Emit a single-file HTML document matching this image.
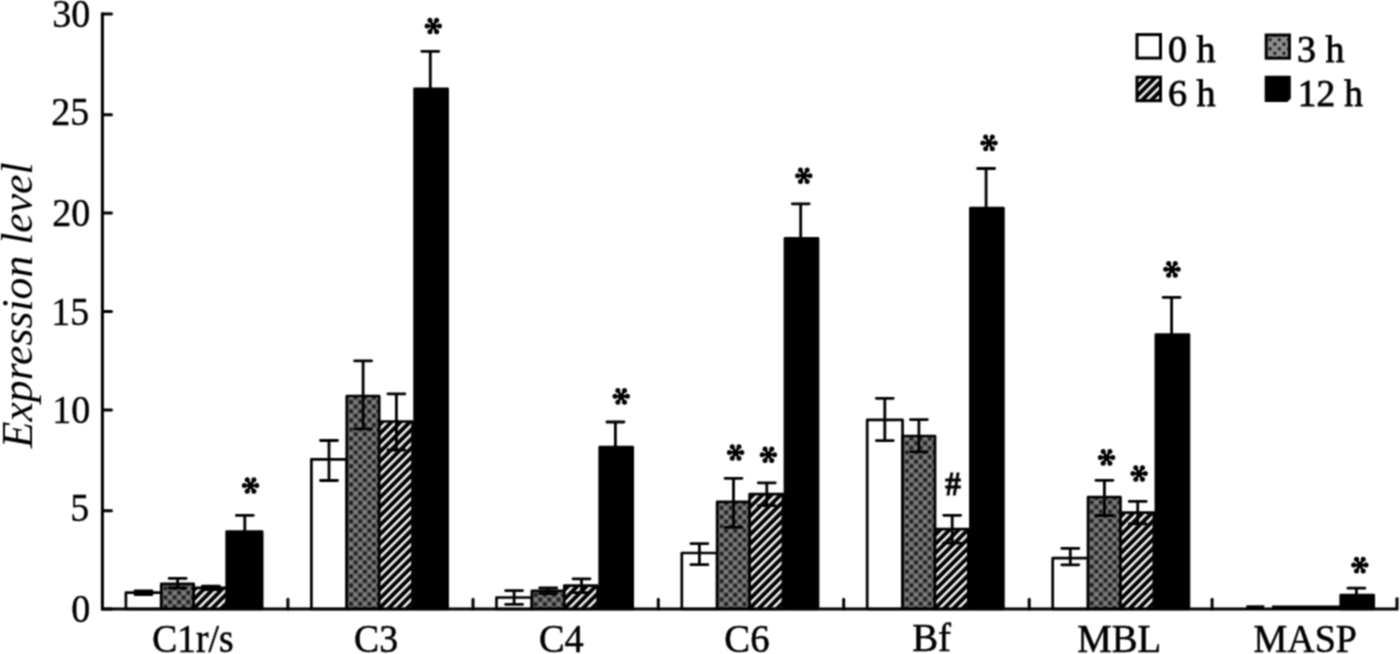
<!DOCTYPE html><html><head><meta charset="utf-8"><title>Expression level chart</title><style>html,body{margin:0;padding:0;background:#fff;width:1400px;height:654px;overflow:hidden}svg{display:block}text{font-family:"Liberation Serif",serif}.t{stroke:#000;stroke-width:0.55px}.ty{stroke:#000;stroke-width:0.4px}.tl{stroke:#000;stroke-width:0.8px}</style></head><body>
<svg width="1400" height="654" viewBox="0 0 1400 654">
<defs>
<pattern id="d0" patternUnits="userSpaceOnUse" width="9.17" height="9.17" x="0.34" y="1.38"><rect width="9.17" height="9.17" fill="#646464"/>
<circle cx="0" cy="0" r="2.0" fill="#1e1e1e"/>
<circle cx="9.17" cy="0" r="2.0" fill="#1e1e1e"/>
<circle cx="0" cy="9.17" r="2.0" fill="#1e1e1e"/>
<circle cx="9.17" cy="9.17" r="2.0" fill="#1e1e1e"/>
<circle cx="4.585" cy="4.585" r="2.0" fill="#1e1e1e"/>
<circle cx="4.585" cy="0" r="1.7" fill="#858585"/>
<circle cx="0" cy="4.585" r="1.7" fill="#858585"/>
<circle cx="9.17" cy="4.585" r="1.7" fill="#858585"/>
<circle cx="4.585" cy="9.17" r="1.7" fill="#858585"/>
</pattern>
<pattern id="h0" patternUnits="userSpaceOnUse" width="6.484" height="20" patternTransform="rotate(45)" x="5.125"><rect width="6.484" height="20" fill="#000"/><rect x="0" width="2.45" height="20" fill="#fff"/></pattern>
<pattern id="d1" patternUnits="userSpaceOnUse" width="9.17" height="9.17" x="2.59" y="7.75"><rect width="9.17" height="9.17" fill="#646464"/>
<circle cx="0" cy="0" r="2.0" fill="#1e1e1e"/>
<circle cx="9.17" cy="0" r="2.0" fill="#1e1e1e"/>
<circle cx="0" cy="9.17" r="2.0" fill="#1e1e1e"/>
<circle cx="9.17" cy="9.17" r="2.0" fill="#1e1e1e"/>
<circle cx="4.585" cy="4.585" r="2.0" fill="#1e1e1e"/>
<circle cx="4.585" cy="0" r="1.7" fill="#858585"/>
<circle cx="0" cy="4.585" r="1.7" fill="#858585"/>
<circle cx="9.17" cy="4.585" r="1.7" fill="#858585"/>
<circle cx="4.585" cy="9.17" r="1.7" fill="#858585"/>
</pattern>
<pattern id="h1" patternUnits="userSpaceOnUse" width="6.484" height="20" patternTransform="rotate(45)" x="0.126"><rect width="6.484" height="20" fill="#000"/><rect x="0" width="2.45" height="20" fill="#fff"/></pattern>
<pattern id="d2" patternUnits="userSpaceOnUse" width="9.17" height="9.17" x="3.84" y="8.15"><rect width="9.17" height="9.17" fill="#646464"/>
<circle cx="0" cy="0" r="2.0" fill="#1e1e1e"/>
<circle cx="9.17" cy="0" r="2.0" fill="#1e1e1e"/>
<circle cx="0" cy="9.17" r="2.0" fill="#1e1e1e"/>
<circle cx="9.17" cy="9.17" r="2.0" fill="#1e1e1e"/>
<circle cx="4.585" cy="4.585" r="2.0" fill="#1e1e1e"/>
<circle cx="4.585" cy="0" r="1.7" fill="#858585"/>
<circle cx="0" cy="4.585" r="1.7" fill="#858585"/>
<circle cx="9.17" cy="4.585" r="1.7" fill="#858585"/>
<circle cx="4.585" cy="9.17" r="1.7" fill="#858585"/>
</pattern>
<pattern id="h2" patternUnits="userSpaceOnUse" width="6.484" height="20" patternTransform="rotate(45)" x="1.328"><rect width="6.484" height="20" fill="#000"/><rect x="0" width="2.45" height="20" fill="#fff"/></pattern>
<pattern id="d3" patternUnits="userSpaceOnUse" width="9.17" height="9.17" x="6.24" y="3.48"><rect width="9.17" height="9.17" fill="#646464"/>
<circle cx="0" cy="0" r="2.0" fill="#1e1e1e"/>
<circle cx="9.17" cy="0" r="2.0" fill="#1e1e1e"/>
<circle cx="0" cy="9.17" r="2.0" fill="#1e1e1e"/>
<circle cx="9.17" cy="9.17" r="2.0" fill="#1e1e1e"/>
<circle cx="4.585" cy="4.585" r="2.0" fill="#1e1e1e"/>
<circle cx="4.585" cy="0" r="1.7" fill="#858585"/>
<circle cx="0" cy="4.585" r="1.7" fill="#858585"/>
<circle cx="9.17" cy="4.585" r="1.7" fill="#858585"/>
<circle cx="4.585" cy="9.17" r="1.7" fill="#858585"/>
</pattern>
<pattern id="h3" patternUnits="userSpaceOnUse" width="6.484" height="20" patternTransform="rotate(45)" x="2.671"><rect width="6.484" height="20" fill="#000"/><rect x="0" width="2.45" height="20" fill="#fff"/></pattern>
<pattern id="d4" patternUnits="userSpaceOnUse" width="9.17" height="9.17" x="8.14" y="3.08"><rect width="9.17" height="9.17" fill="#646464"/>
<circle cx="0" cy="0" r="2.0" fill="#1e1e1e"/>
<circle cx="9.17" cy="0" r="2.0" fill="#1e1e1e"/>
<circle cx="0" cy="9.17" r="2.0" fill="#1e1e1e"/>
<circle cx="9.17" cy="9.17" r="2.0" fill="#1e1e1e"/>
<circle cx="4.585" cy="4.585" r="2.0" fill="#1e1e1e"/>
<circle cx="4.585" cy="0" r="1.7" fill="#858585"/>
<circle cx="0" cy="4.585" r="1.7" fill="#858585"/>
<circle cx="9.17" cy="4.585" r="1.7" fill="#858585"/>
<circle cx="4.585" cy="9.17" r="1.7" fill="#858585"/>
</pattern>
<pattern id="h4" patternUnits="userSpaceOnUse" width="6.484" height="20" patternTransform="rotate(45)" x="4.085"><rect width="6.484" height="20" fill="#000"/><rect x="0" width="2.45" height="20" fill="#fff"/></pattern>
<pattern id="d5" patternUnits="userSpaceOnUse" width="9.17" height="9.17" x="0.42" y="7.25"><rect width="9.17" height="9.17" fill="#646464"/>
<circle cx="0" cy="0" r="2.0" fill="#1e1e1e"/>
<circle cx="9.17" cy="0" r="2.0" fill="#1e1e1e"/>
<circle cx="0" cy="9.17" r="2.0" fill="#1e1e1e"/>
<circle cx="9.17" cy="9.17" r="2.0" fill="#1e1e1e"/>
<circle cx="4.585" cy="4.585" r="2.0" fill="#1e1e1e"/>
<circle cx="4.585" cy="0" r="1.7" fill="#858585"/>
<circle cx="0" cy="4.585" r="1.7" fill="#858585"/>
<circle cx="9.17" cy="4.585" r="1.7" fill="#858585"/>
<circle cx="4.585" cy="9.17" r="1.7" fill="#858585"/>
</pattern>
<pattern id="h5" patternUnits="userSpaceOnUse" width="6.484" height="20" patternTransform="rotate(45)" x="5.57"><rect width="6.484" height="20" fill="#000"/><rect x="0" width="2.45" height="20" fill="#fff"/></pattern>
<pattern id="dots" patternUnits="userSpaceOnUse" width="9.17" height="9.17" x="1270.2" y="39.6"><rect width="9.17" height="9.17" fill="#8e8e8e"/>
<circle cx="0" cy="0" r="1.8" fill="#222"/>
<circle cx="9.17" cy="0" r="1.8" fill="#222"/>
<circle cx="0" cy="9.17" r="1.8" fill="#222"/>
<circle cx="9.17" cy="9.17" r="1.8" fill="#222"/>
<circle cx="4.585" cy="4.585" r="1.8" fill="#222"/>
</pattern>
<pattern id="hatch" patternUnits="userSpaceOnUse" width="6.484" height="20" patternTransform="rotate(45)" x="5.012"><rect width="6.484" height="20" fill="#000"/><rect x="0" width="2.45" height="20" fill="#fff"/></pattern>
<filter id="soft" filterUnits="userSpaceOnUse" x="0" y="0" width="1400" height="654" color-interpolation-filters="sRGB"><feConvolveMatrix order="3" kernelMatrix="1 2 1 2 4 2 1 2 1" divisor="16" edgeMode="duplicate"/></filter>
</defs>
<g filter="url(#soft)"><rect width="1400" height="654" fill="#fff"/>
<rect x="125.9" y="592.7" width="35.35" height="16.3" fill="#fff" stroke="#000" stroke-width="2.7" stroke-linejoin="round"/>
<rect x="161.25" y="583.9" width="32.45" height="25.1" fill="url(#d0)"/>
<rect x="161.25" y="583.9" width="32.45" height="25.1" fill="none" stroke="#000" stroke-width="2.7" stroke-linejoin="round"/>
<rect x="193.7" y="587.8" width="33.3" height="21.2" fill="url(#h0)"/>
<rect x="193.7" y="587.8" width="33.3" height="21.2" fill="none" stroke="#000" stroke-width="2.7" stroke-linejoin="round"/>
<rect x="226.7" y="531.7" width="35.45" height="77.3" fill="#000" stroke="#000" stroke-width="2.7" stroke-linejoin="round"/>
<rect x="311.4" y="459.3" width="35.35" height="149.7" fill="#fff" stroke="#000" stroke-width="2.7" stroke-linejoin="round"/>
<rect x="346.75" y="396" width="32.45" height="213" fill="url(#d1)"/>
<rect x="346.75" y="396" width="32.45" height="213" fill="none" stroke="#000" stroke-width="2.7" stroke-linejoin="round"/>
<rect x="379.2" y="421.5" width="33.3" height="187.5" fill="url(#h1)"/>
<rect x="379.2" y="421.5" width="33.3" height="187.5" fill="none" stroke="#000" stroke-width="2.7" stroke-linejoin="round"/>
<rect x="414.6" y="88.8" width="33" height="520.2" fill="#000" stroke="#000" stroke-width="2.7" stroke-linejoin="round"/>
<rect x="496.5" y="597.5" width="35.35" height="11.5" fill="#fff" stroke="#000" stroke-width="2.7" stroke-linejoin="round"/>
<rect x="531.85" y="590.8" width="32.45" height="18.2" fill="url(#d2)"/>
<rect x="531.85" y="590.8" width="32.45" height="18.2" fill="none" stroke="#000" stroke-width="2.7" stroke-linejoin="round"/>
<rect x="564.3" y="585.7" width="33.3" height="23.3" fill="url(#h2)"/>
<rect x="564.3" y="585.7" width="33.3" height="23.3" fill="none" stroke="#000" stroke-width="2.7" stroke-linejoin="round"/>
<rect x="599.7" y="447.2" width="33" height="161.8" fill="#000" stroke="#000" stroke-width="2.7" stroke-linejoin="round"/>
<rect x="681.8" y="553" width="35.35" height="56" fill="#fff" stroke="#000" stroke-width="2.7" stroke-linejoin="round"/>
<rect x="717.15" y="501.9" width="32.45" height="107.1" fill="url(#d3)"/>
<rect x="717.15" y="501.9" width="32.45" height="107.1" fill="none" stroke="#000" stroke-width="2.7" stroke-linejoin="round"/>
<rect x="749.6" y="494.2" width="33.3" height="114.8" fill="url(#h3)"/>
<rect x="749.6" y="494.2" width="33.3" height="114.8" fill="none" stroke="#000" stroke-width="2.7" stroke-linejoin="round"/>
<rect x="785" y="238.4" width="33" height="370.6" fill="#000" stroke="#000" stroke-width="2.7" stroke-linejoin="round"/>
<rect x="867.2" y="419.9" width="35.35" height="189.1" fill="#fff" stroke="#000" stroke-width="2.7" stroke-linejoin="round"/>
<rect x="902.55" y="436" width="32.45" height="173" fill="url(#d4)"/>
<rect x="902.55" y="436" width="32.45" height="173" fill="none" stroke="#000" stroke-width="2.7" stroke-linejoin="round"/>
<rect x="935" y="529.2" width="33.3" height="79.8" fill="url(#h4)"/>
<rect x="935" y="529.2" width="33.3" height="79.8" fill="none" stroke="#000" stroke-width="2.7" stroke-linejoin="round"/>
<rect x="970.4" y="208" width="33" height="401" fill="#000" stroke="#000" stroke-width="2.7" stroke-linejoin="round"/>
<rect x="1052.7" y="558.2" width="35.35" height="50.8" fill="#fff" stroke="#000" stroke-width="2.7" stroke-linejoin="round"/>
<rect x="1088.05" y="497.1" width="32.45" height="111.9" fill="url(#d5)"/>
<rect x="1088.05" y="497.1" width="32.45" height="111.9" fill="none" stroke="#000" stroke-width="2.7" stroke-linejoin="round"/>
<rect x="1120.5" y="512.6" width="33.3" height="96.4" fill="url(#h5)"/>
<rect x="1120.5" y="512.6" width="33.3" height="96.4" fill="none" stroke="#000" stroke-width="2.7" stroke-linejoin="round"/>
<rect x="1155.9" y="334.5" width="33" height="274.5" fill="#000" stroke="#000" stroke-width="2.7" stroke-linejoin="round"/>
<rect x="1340.7" y="595.2" width="33" height="13.8" fill="#000" stroke="#000" stroke-width="2.7" stroke-linejoin="round"/>
<path d="M143.5 590.8V594.6M135 590.8H152M135 594.6H152" stroke="#000" stroke-width="2.8" fill="none" stroke-linecap="round"/>
<path d="M177.6 578.4V588M169.1 578.4H186.1M169.1 588H186.1" stroke="#000" stroke-width="2.8" fill="none" stroke-linecap="round"/>
<path d="M210.9 586.1V589.5M202.4 586.1H219.4M202.4 589.5H219.4" stroke="#000" stroke-width="2.8" fill="none" stroke-linecap="round"/>
<path d="M244.8 515.4V548M236.3 515.4H253.3M236.3 548H253.3" stroke="#000" stroke-width="2.8" fill="none" stroke-linecap="round"/>
<path d="M329 440.5V480.5M320.5 440.5H337.5M320.5 480.5H337.5" stroke="#000" stroke-width="2.8" fill="none" stroke-linecap="round"/>
<path d="M363.1 360.9V428.9M354.6 360.9H371.6M354.6 428.9H371.6" stroke="#000" stroke-width="2.8" fill="none" stroke-linecap="round"/>
<path d="M396.4 393.8V450M387.9 393.8H404.9M387.9 450H404.9" stroke="#000" stroke-width="2.8" fill="none" stroke-linecap="round"/>
<path d="M430.3 51.3V126.3M421.8 51.3H438.8M421.8 126.3H438.8" stroke="#000" stroke-width="2.8" fill="none" stroke-linecap="round"/>
<path d="M514.1 590.6V604.4M505.6 590.6H522.6M505.6 604.4H522.6" stroke="#000" stroke-width="2.8" fill="none" stroke-linecap="round"/>
<path d="M548.2 588V593.6M539.7 588H556.7M539.7 593.6H556.7" stroke="#000" stroke-width="2.8" fill="none" stroke-linecap="round"/>
<path d="M581.5 578.8V592.6M573 578.8H590M573 592.6H590" stroke="#000" stroke-width="2.8" fill="none" stroke-linecap="round"/>
<path d="M615.4 422V472.4M606.9 422H623.9M606.9 472.4H623.9" stroke="#000" stroke-width="2.8" fill="none" stroke-linecap="round"/>
<path d="M699.4 543.6V564.7M690.9 543.6H707.9M690.9 564.7H707.9" stroke="#000" stroke-width="2.8" fill="none" stroke-linecap="round"/>
<path d="M733.5 478.3V527.4M725 478.3H742M725 527.4H742" stroke="#000" stroke-width="2.8" fill="none" stroke-linecap="round"/>
<path d="M766.8 482.8V505.6M758.3 482.8H775.3M758.3 505.6H775.3" stroke="#000" stroke-width="2.8" fill="none" stroke-linecap="round"/>
<path d="M800.7 203.8V273M792.2 203.8H809.2M792.2 273H809.2" stroke="#000" stroke-width="2.8" fill="none" stroke-linecap="round"/>
<path d="M884.8 398.3V440.6M876.3 398.3H893.3M876.3 440.6H893.3" stroke="#000" stroke-width="2.8" fill="none" stroke-linecap="round"/>
<path d="M918.9 419.6V451.8M910.4 419.6H927.4M910.4 451.8H927.4" stroke="#000" stroke-width="2.8" fill="none" stroke-linecap="round"/>
<path d="M952.2 515.3V543.1M943.7 515.3H960.7M943.7 543.1H960.7" stroke="#000" stroke-width="2.8" fill="none" stroke-linecap="round"/>
<path d="M986.1 168.5V247.5M977.6 168.5H994.6M977.6 247.5H994.6" stroke="#000" stroke-width="2.8" fill="none" stroke-linecap="round"/>
<path d="M1070.3 548.4V564.8M1061.8 548.4H1078.8M1061.8 564.8H1078.8" stroke="#000" stroke-width="2.8" fill="none" stroke-linecap="round"/>
<path d="M1104.4 480.3V515.5M1095.9 480.3H1112.9M1095.9 515.5H1112.9" stroke="#000" stroke-width="2.8" fill="none" stroke-linecap="round"/>
<path d="M1137.7 501.4V523.8M1129.2 501.4H1146.2M1129.2 523.8H1146.2" stroke="#000" stroke-width="2.8" fill="none" stroke-linecap="round"/>
<path d="M1171.6 297.4V371.6M1163.1 297.4H1180.1M1163.1 371.6H1180.1" stroke="#000" stroke-width="2.8" fill="none" stroke-linecap="round"/>
<path d="M1356.4 588.2V602.2M1347.9 588.2H1364.9M1347.9 602.2H1364.9" stroke="#000" stroke-width="2.8" fill="none" stroke-linecap="round"/>
<rect x="1246.3" y="605.3" width="18" height="4" fill="#000"/>
<rect x="1272" y="605.5" width="68" height="4" fill="#000"/>
<path d="M102.4 12.5V609H1397V597.6" stroke="#000" stroke-width="3" fill="none" stroke-linejoin="miter"/>
<path d="M102.4 13.9H111.5M102.4 114.7H111.5M102.4 213.1H111.5M102.4 311.5H111.5M102.4 409.9H111.5M102.4 510.8H111.5M102.4 609H111.5M287.9 609V599.2M473 609V599.2M658.3 609V599.2M843.7 609V599.2M1029.2 609V599.2M1212.1 609V599.2" stroke="#000" stroke-width="3" fill="none" stroke-linecap="round"/>
<text x="0" y="0" transform="translate(90.3 26.6) scale(0.95 1)" font-size="40" text-anchor="end" class="ty">30</text>
<text x="0" y="0" transform="translate(89.3 125.2) scale(0.95 1)" font-size="40" text-anchor="end" class="ty">25</text>
<text x="0" y="0" transform="translate(90.3 226) scale(0.95 1)" font-size="40" text-anchor="end" class="ty">20</text>
<text x="0" y="0" transform="translate(89.3 324.9) scale(0.95 1)" font-size="40" text-anchor="end" class="ty">15</text>
<text x="0" y="0" transform="translate(90.3 423) scale(0.95 1)" font-size="40" text-anchor="end" class="ty">10</text>
<text x="0" y="0" transform="translate(89.3 521.2) scale(0.95 1)" font-size="40" text-anchor="end" class="ty">5</text>
<text x="0" y="0" transform="translate(90.3 622.2) scale(0.95 1)" font-size="40" text-anchor="end" class="ty">0</text>
<text transform="translate(152.325 652.2) scale(0.937 1)" font-size="40" class="t">C1r/s</text>
<text transform="translate(354.116 652) scale(0.942 1)" font-size="40" class="t">C3</text>
<text transform="translate(539.086 652) scale(0.957 1)" font-size="40" class="t">C4</text>
<text transform="translate(724.359 652) scale(0.970 1)" font-size="40" class="t">C6</text>
<text transform="translate(912.128 650.6) scale(0.972 1)" font-size="40" class="t">Bf</text>
<text transform="translate(1077.231 652) scale(0.969 1)" font-size="40" class="t">MBL</text>
<text transform="translate(1253.45 652.2) scale(0.950 1)" font-size="40" class="t">MASP</text>
<text transform="translate(32.2 448.2) rotate(-90) scale(0.993 1)" font-size="44" font-style="italic">Expression level</text>
<g transform="translate(250.55 485.5)"><path d="M0 0L6.20 0.00 M0 0L-6.20 0.00 M0 0L3.35 5.80 M0 0L-3.35 5.80 M0 0L-3.35 -5.80 M0 0L3.35 -5.80" stroke="#000" stroke-width="2.7" stroke-linecap="round"/><circle cx="6.20" cy="0.00" r="2.5"/><circle cx="-6.20" cy="0.00" r="2.5"/><circle cx="3.35" cy="5.80" r="2.5"/><circle cx="-3.35" cy="5.80" r="2.5"/><circle cx="-3.35" cy="-5.80" r="2.5"/><circle cx="3.35" cy="-5.80" r="2.5"/><circle r="2.1"/></g>
<g transform="translate(433.3 26)"><path d="M0 0L6.20 0.00 M0 0L-6.20 0.00 M0 0L3.35 5.80 M0 0L-3.35 5.80 M0 0L-3.35 -5.80 M0 0L3.35 -5.80" stroke="#000" stroke-width="2.7" stroke-linecap="round"/><circle cx="6.20" cy="0.00" r="2.5"/><circle cx="-6.20" cy="0.00" r="2.5"/><circle cx="3.35" cy="5.80" r="2.5"/><circle cx="-3.35" cy="5.80" r="2.5"/><circle cx="-3.35" cy="-5.80" r="2.5"/><circle cx="3.35" cy="-5.80" r="2.5"/><circle r="2.1"/></g>
<g transform="translate(621.2 396.35)"><path d="M0 0L6.20 0.00 M0 0L-6.20 0.00 M0 0L3.35 5.80 M0 0L-3.35 5.80 M0 0L-3.35 -5.80 M0 0L3.35 -5.80" stroke="#000" stroke-width="2.7" stroke-linecap="round"/><circle cx="6.20" cy="0.00" r="2.5"/><circle cx="-6.20" cy="0.00" r="2.5"/><circle cx="3.35" cy="5.80" r="2.5"/><circle cx="-3.35" cy="5.80" r="2.5"/><circle cx="-3.35" cy="-5.80" r="2.5"/><circle cx="3.35" cy="-5.80" r="2.5"/><circle r="2.1"/></g>
<g transform="translate(735.6 452.45)"><path d="M0 0L6.20 0.00 M0 0L-6.20 0.00 M0 0L3.35 5.80 M0 0L-3.35 5.80 M0 0L-3.35 -5.80 M0 0L3.35 -5.80" stroke="#000" stroke-width="2.7" stroke-linecap="round"/><circle cx="6.20" cy="0.00" r="2.5"/><circle cx="-6.20" cy="0.00" r="2.5"/><circle cx="3.35" cy="5.80" r="2.5"/><circle cx="-3.35" cy="5.80" r="2.5"/><circle cx="-3.35" cy="-5.80" r="2.5"/><circle cx="3.35" cy="-5.80" r="2.5"/><circle r="2.1"/></g>
<g transform="translate(768.4 454.7)"><path d="M0 0L6.20 0.00 M0 0L-6.20 0.00 M0 0L3.35 5.80 M0 0L-3.35 5.80 M0 0L-3.35 -5.80 M0 0L3.35 -5.80" stroke="#000" stroke-width="2.7" stroke-linecap="round"/><circle cx="6.20" cy="0.00" r="2.5"/><circle cx="-6.20" cy="0.00" r="2.5"/><circle cx="3.35" cy="5.80" r="2.5"/><circle cx="-3.35" cy="5.80" r="2.5"/><circle cx="-3.35" cy="-5.80" r="2.5"/><circle cx="3.35" cy="-5.80" r="2.5"/><circle r="2.1"/></g>
<g transform="translate(803.8 175.7)"><path d="M0 0L6.20 0.00 M0 0L-6.20 0.00 M0 0L3.35 5.80 M0 0L-3.35 5.80 M0 0L-3.35 -5.80 M0 0L3.35 -5.80" stroke="#000" stroke-width="2.7" stroke-linecap="round"/><circle cx="6.20" cy="0.00" r="2.5"/><circle cx="-6.20" cy="0.00" r="2.5"/><circle cx="3.35" cy="5.80" r="2.5"/><circle cx="-3.35" cy="5.80" r="2.5"/><circle cx="-3.35" cy="-5.80" r="2.5"/><circle cx="3.35" cy="-5.80" r="2.5"/><circle r="2.1"/></g>
<g transform="translate(989 142.9)"><path d="M0 0L6.20 0.00 M0 0L-6.20 0.00 M0 0L3.35 5.80 M0 0L-3.35 5.80 M0 0L-3.35 -5.80 M0 0L3.35 -5.80" stroke="#000" stroke-width="2.7" stroke-linecap="round"/><circle cx="6.20" cy="0.00" r="2.5"/><circle cx="-6.20" cy="0.00" r="2.5"/><circle cx="3.35" cy="5.80" r="2.5"/><circle cx="-3.35" cy="5.80" r="2.5"/><circle cx="-3.35" cy="-5.80" r="2.5"/><circle cx="3.35" cy="-5.80" r="2.5"/><circle r="2.1"/></g>
<g transform="translate(1106.55 457.4)"><path d="M0 0L6.20 0.00 M0 0L-6.20 0.00 M0 0L3.35 5.80 M0 0L-3.35 5.80 M0 0L-3.35 -5.80 M0 0L3.35 -5.80" stroke="#000" stroke-width="2.7" stroke-linecap="round"/><circle cx="6.20" cy="0.00" r="2.5"/><circle cx="-6.20" cy="0.00" r="2.5"/><circle cx="3.35" cy="5.80" r="2.5"/><circle cx="-3.35" cy="5.80" r="2.5"/><circle cx="-3.35" cy="-5.80" r="2.5"/><circle cx="3.35" cy="-5.80" r="2.5"/><circle r="2.1"/></g>
<g transform="translate(1139.1 473.55)"><path d="M0 0L6.20 0.00 M0 0L-6.20 0.00 M0 0L3.35 5.80 M0 0L-3.35 5.80 M0 0L-3.35 -5.80 M0 0L3.35 -5.80" stroke="#000" stroke-width="2.7" stroke-linecap="round"/><circle cx="6.20" cy="0.00" r="2.5"/><circle cx="-6.20" cy="0.00" r="2.5"/><circle cx="3.35" cy="5.80" r="2.5"/><circle cx="-3.35" cy="5.80" r="2.5"/><circle cx="-3.35" cy="-5.80" r="2.5"/><circle cx="3.35" cy="-5.80" r="2.5"/><circle r="2.1"/></g>
<g transform="translate(1171.95 269.35)"><path d="M0 0L6.20 0.00 M0 0L-6.20 0.00 M0 0L3.35 5.80 M0 0L-3.35 5.80 M0 0L-3.35 -5.80 M0 0L3.35 -5.80" stroke="#000" stroke-width="2.7" stroke-linecap="round"/><circle cx="6.20" cy="0.00" r="2.5"/><circle cx="-6.20" cy="0.00" r="2.5"/><circle cx="3.35" cy="5.80" r="2.5"/><circle cx="-3.35" cy="5.80" r="2.5"/><circle cx="-3.35" cy="-5.80" r="2.5"/><circle cx="3.35" cy="-5.80" r="2.5"/><circle r="2.1"/></g>
<g transform="translate(1359.85 565.1)"><path d="M0 0L6.20 0.00 M0 0L-6.20 0.00 M0 0L3.35 5.80 M0 0L-3.35 5.80 M0 0L-3.35 -5.80 M0 0L3.35 -5.80" stroke="#000" stroke-width="2.7" stroke-linecap="round"/><circle cx="6.20" cy="0.00" r="2.5"/><circle cx="-6.20" cy="0.00" r="2.5"/><circle cx="3.35" cy="5.80" r="2.5"/><circle cx="-3.35" cy="5.80" r="2.5"/><circle cx="-3.35" cy="-5.80" r="2.5"/><circle cx="3.35" cy="-5.80" r="2.5"/><circle r="2.1"/></g>
<text transform="translate(945.202 495.25) scale(0.93 1)" font-size="33.6" font-weight="bold" stroke="#000" stroke-width="0.8">#</text>
<rect x="1137" y="34.6" width="23.5" height="23.5" fill="#fff" stroke="#000" stroke-width="3"/>
<rect x="1266.2" y="35" width="23.2" height="23.2" fill="url(#dots)" stroke="#000" stroke-width="3"/>
<rect x="1137" y="77.2" width="23.5" height="23.5" fill="url(#hatch)" stroke="#000" stroke-width="3"/>
<path d="M1264.7 75.7H1290.8V98.6L1287.4 102H1264.7Z" fill="#000"/>
<text transform="translate(1167.992 61.9) scale(0.991 1)" font-size="38.5" class="tl">0 h</text>
<text transform="translate(1297.004 61.9) scale(0.985 1)" font-size="38.5" class="tl">3 h</text>
<text transform="translate(1167.992 106) scale(0.991 1)" font-size="38.5" class="tl">6 h</text>
<text transform="translate(1297.773 106.3) scale(0.968 1)" font-size="38.5" class="tl">12 h</text>
</g></svg></body></html>
